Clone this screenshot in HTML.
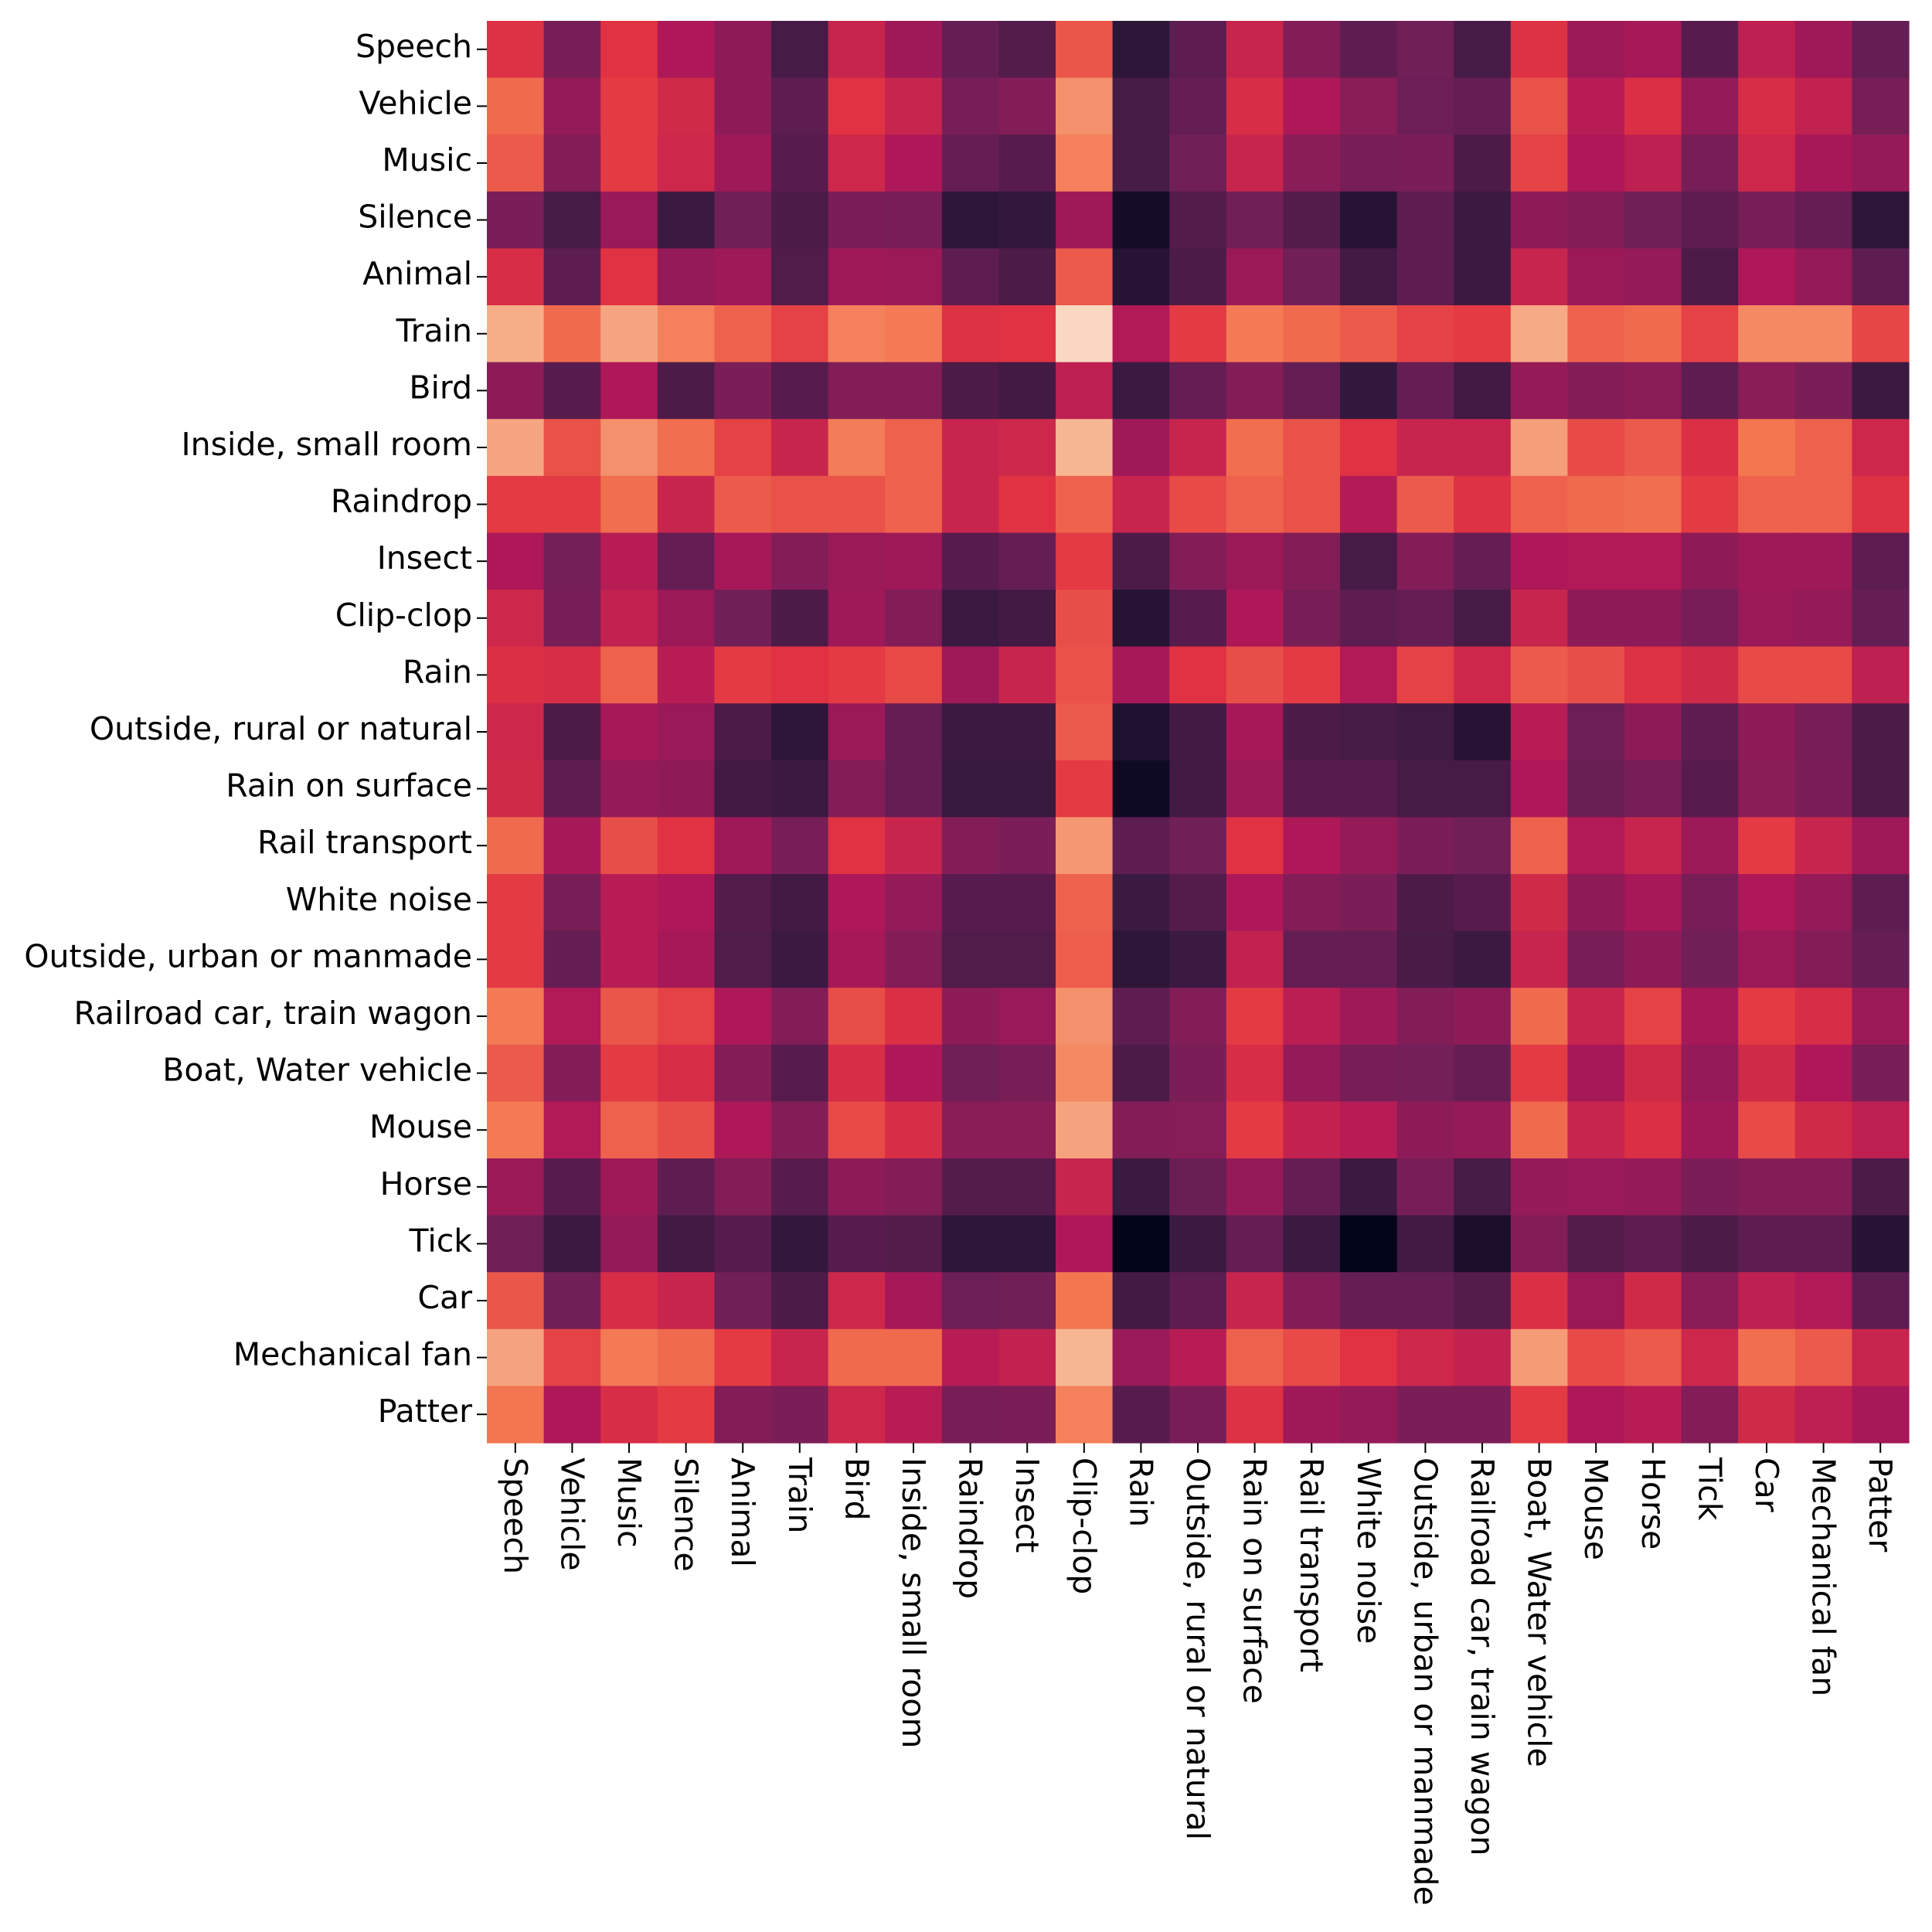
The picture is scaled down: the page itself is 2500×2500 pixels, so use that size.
<!DOCTYPE html>
<html><head><meta charset="utf-8"><style>
html,body{margin:0;padding:0;background:#fff;}
svg{display:block;}
text{font-family:"DejaVu Sans","Liberation Sans",sans-serif;font-size:41px;fill:#000;}
</style></head><body>
<svg id="chart" width="2500" height="2500" viewBox="0 0 2500 2500" xmlns="http://www.w3.org/2000/svg">
<g id="cells"></g>
<g id="yaxis"></g>
<g id="xaxis"></g>
</svg>
<script>
const labels = ["Speech","Vehicle","Music","Silence","Animal","Train","Bird","Inside, small room","Raindrop","Insect","Clip-clop","Rain","Outside, rural or natural","Rain on surface","Rail transport","White noise","Outside, urban or manmade","Railroad car, train wagon","Boat, Water vehicle","Mouse","Horse","Tick","Car","Mechanical fan","Patter"];
const rowSpeech = [0.57,0.27,0.58,0.42,0.33,0.13,0.5,0.38,0.22,0.17,0.67,0.07,0.2,0.5,0.3,0.2,0.25,0.13,0.57,0.37,0.4,0.18,0.47,0.38,0.22];
const rowVehicle = [0.72,0.35,0.6,0.53,0.33,0.2,0.58,0.5,0.27,0.3,0.82,0.13,0.22,0.55,0.42,0.32,0.24,0.22,0.66,0.45,0.56,0.35,0.55,0.48,0.27];
const rowMusic = [0.68,0.3,0.6,0.52,0.38,0.18,0.52,0.42,0.22,0.18,0.78,0.13,0.25,0.5,0.32,0.27,0.28,0.15,0.62,0.42,0.47,0.27,0.52,0.4,0.35];
const rowSilence = [0.28,0.13,0.36,0.1,0.25,0.15,0.28,0.27,0.07,0.08,0.38,0.03,0.17,0.25,0.17,0.06,0.2,0.1,0.33,0.3,0.25,0.2,0.27,0.22,0.07];
const rowAnimal = [0.55,0.2,0.58,0.35,0.38,0.16,0.38,0.37,0.2,0.15,0.68,0.06,0.15,0.37,0.25,0.12,0.2,0.1,0.5,0.37,0.35,0.15,0.42,0.35,0.2];
const rowTrain = [0.9,0.72,0.88,0.78,0.7,0.62,0.78,0.76,0.57,0.58,0.97,0.43,0.6,0.76,0.72,0.68,0.62,0.6,0.89,0.7,0.72,0.62,0.8,0.8,0.63];
const rowBird = [0.33,0.18,0.42,0.15,0.28,0.18,0.3,0.3,0.15,0.12,0.47,0.1,0.22,0.3,0.22,0.08,0.22,0.12,0.35,0.3,0.32,0.2,0.32,0.28,0.1];
const rowInside = [0.88,0.66,0.82,0.73,0.62,0.5,0.77,0.7,0.5,0.52,0.92,0.38,0.5,0.73,0.66,0.58,0.5,0.5,0.86,0.64,0.68,0.56,0.75,0.7,0.52];
const rowRaindrop = [0.6,0.6,0.73,0.5,0.68,0.66,0.66,0.7,0.5,0.58,0.7,0.5,0.64,0.7,0.66,0.44,0.68,0.57,0.7,0.72,0.73,0.6,0.7,0.7,0.57];
const rowInsect = [0.42,0.26,0.45,0.22,0.4,0.3,0.37,0.38,0.18,0.22,0.6,0.15,0.3,0.37,0.3,0.13,0.3,0.22,0.42,0.43,0.43,0.33,0.38,0.38,0.2];
const rowClipclop = [0.52,0.27,0.48,0.37,0.25,0.15,0.38,0.3,0.1,0.12,0.65,0.06,0.18,0.42,0.27,0.2,0.22,0.13,0.5,0.33,0.33,0.27,0.37,0.35,0.22];
const rowRain = [0.56,0.55,0.7,0.45,0.6,0.58,0.6,0.64,0.38,0.5,0.66,0.4,0.58,0.65,0.6,0.43,0.62,0.52,0.68,0.65,0.57,0.53,0.64,0.64,0.47];
const rowOutRural = [0.52,0.15,0.4,0.36,0.15,0.07,0.37,0.22,0.1,0.1,0.68,0.05,0.12,0.4,0.15,0.13,0.11,0.06,0.45,0.24,0.33,0.2,0.33,0.27,0.15];
const rowRainSurface = [0.53,0.2,0.35,0.33,0.12,0.1,0.3,0.22,0.09,0.09,0.6,0.02,0.12,0.37,0.18,0.18,0.13,0.13,0.42,0.23,0.27,0.18,0.32,0.28,0.15];
const rowRailTransport = [0.72,0.4,0.65,0.58,0.38,0.27,0.58,0.5,0.3,0.28,0.84,0.2,0.25,0.58,0.42,0.35,0.28,0.25,0.7,0.43,0.5,0.37,0.6,0.5,0.38];
const rowWhiteNoise = [0.6,0.27,0.45,0.42,0.17,0.12,0.42,0.35,0.18,0.18,0.7,0.1,0.17,0.42,0.3,0.28,0.15,0.18,0.53,0.33,0.4,0.27,0.42,0.35,0.2];
const rowOutUrban = [0.6,0.22,0.45,0.4,0.16,0.1,0.4,0.3,0.16,0.16,0.69,0.07,0.1,0.48,0.22,0.22,0.14,0.1,0.5,0.27,0.33,0.25,0.37,0.3,0.22];
const rowRailCar = [0.76,0.43,0.67,0.62,0.42,0.3,0.65,0.56,0.33,0.36,0.82,0.2,0.3,0.6,0.46,0.38,0.3,0.33,0.72,0.5,0.62,0.4,0.6,0.55,0.37];
const rowBoat = [0.68,0.3,0.6,0.55,0.3,0.18,0.55,0.42,0.25,0.27,0.8,0.15,0.28,0.55,0.35,0.27,0.26,0.22,0.6,0.4,0.53,0.35,0.53,0.42,0.27];
const rowMouse = [0.76,0.43,0.7,0.65,0.42,0.3,0.64,0.55,0.32,0.32,0.87,0.3,0.31,0.6,0.48,0.45,0.33,0.35,0.72,0.5,0.56,0.38,0.64,0.53,0.47];
const rowHorse = [0.37,0.18,0.38,0.2,0.3,0.18,0.33,0.3,0.17,0.17,0.5,0.1,0.23,0.35,0.22,0.1,0.27,0.13,0.35,0.36,0.35,0.28,0.3,0.3,0.15];
const rowTick = [0.25,0.1,0.35,0.12,0.18,0.08,0.18,0.17,0.07,0.07,0.42,0.0,0.1,0.22,0.1,0.0,0.12,0.04,0.3,0.17,0.2,0.15,0.2,0.2,0.06];
const rowCar = [0.67,0.25,0.55,0.5,0.25,0.15,0.52,0.4,0.24,0.25,0.75,0.12,0.2,0.5,0.3,0.22,0.22,0.17,0.56,0.37,0.53,0.32,0.47,0.43,0.2];
const rowMechFan = [0.87,0.62,0.76,0.72,0.6,0.5,0.72,0.72,0.45,0.48,0.92,0.36,0.45,0.7,0.64,0.58,0.52,0.48,0.85,0.64,0.68,0.52,0.73,0.68,0.5];
const rowPatter = [0.75,0.42,0.55,0.6,0.3,0.28,0.52,0.45,0.27,0.28,0.78,0.18,0.27,0.57,0.38,0.35,0.28,0.28,0.6,0.42,0.45,0.3,0.53,0.47,0.4];
const matrix = [rowSpeech,rowVehicle,rowMusic,rowSilence,rowAnimal,rowTrain,rowBird,rowInside,rowRaindrop,rowInsect,rowClipclop,rowRain,rowOutRural,rowRainSurface,rowRailTransport,rowWhiteNoise,rowOutUrban,rowRailCar,rowBoat,rowMouse,rowHorse,rowTick,rowCar,rowMechFan,rowPatter];

const NS = "http://www.w3.org/2000/svg";
const X0 = 630, X1 = 2470, Y0 = 27, Y1 = 1867;
const n = labels.length;
const cw = (X1 - X0) / n, ch = (Y1 - Y0) / n;
function xScale(i){ return X0 + i * cw; }
function yScale(i){ return Y0 + i * ch; }
const stops = [[0,[3,5,26]],[0.083,[53,25,62]],[0.25,[112,31,87]],[0.417,[173,23,89]],[0.583,[225,51,66]],[0.75,[243,118,81]],[0.917,[246,180,143]],[1,[250,235,221]]];
function rocket(v){
  v = Math.max(0, Math.min(1, v));
  for (let k = 1; k < stops.length; k++) {
    if (v <= stops[k][0]) {
      const a = stops[k-1], b = stops[k];
      const t = (v - a[0]) / (b[0] - a[0]);
      const c = a[1].map((q, j) => Math.round(q + (b[1][j] - q) * t));
      return "rgb(" + c.join(",") + ")";
    }
  }
  return "rgb(250,235,221)";
}
const cells = document.getElementById("cells");
matrix.forEach((row, r) => {
  row.forEach((v, c) => {
    const rect = document.createElementNS(NS, "rect");
    rect.setAttribute("x", xScale(c));
    rect.setAttribute("y", yScale(r));
    rect.setAttribute("width", cw + 0.6);
    rect.setAttribute("height", ch + 0.6);
    rect.setAttribute("fill", rocket(v));
    
    
    cells.appendChild(rect);
  });
});
const yaxis = document.getElementById("yaxis");
const xaxis = document.getElementById("xaxis");
labels.forEach((lab, i) => {
  const cy = yScale(i) + ch / 2;
  const tk = document.createElementNS(NS, "line");
  tk.setAttribute("x1", X0 - 13); tk.setAttribute("x2", X0);
  tk.setAttribute("y1", cy); tk.setAttribute("y2", cy);
  tk.setAttribute("stroke", "#000"); tk.setAttribute("stroke-width", "2");
  
  
  yaxis.appendChild(tk);
  const t = document.createElementNS(NS, "text");
  t.setAttribute("x", X0 - 19); t.setAttribute("y", cy - 4);
  t.setAttribute("text-anchor", "end");
  t.setAttribute("dominant-baseline", "central");
  t.textContent = lab;
  
  
  yaxis.appendChild(t);

  const cx = xScale(i) + cw / 2;
  const tk2 = document.createElementNS(NS, "line");
  tk2.setAttribute("x1", cx); tk2.setAttribute("x2", cx);
  tk2.setAttribute("y1", Y1); tk2.setAttribute("y2", Y1 + 13);
  tk2.setAttribute("stroke", "#000"); tk2.setAttribute("stroke-width", "2");
  
  
  xaxis.appendChild(tk2);
  const t2 = document.createElementNS(NS, "text");
  t2.setAttribute("transform", "translate(" + cx + "," + (Y1 + 19) + ") rotate(90)");
  t2.setAttribute("text-anchor", "start");
  t2.setAttribute("dominant-baseline", "central");
  t2.textContent = lab;
  
  
  xaxis.appendChild(t2);
});
</script>
</body></html>
